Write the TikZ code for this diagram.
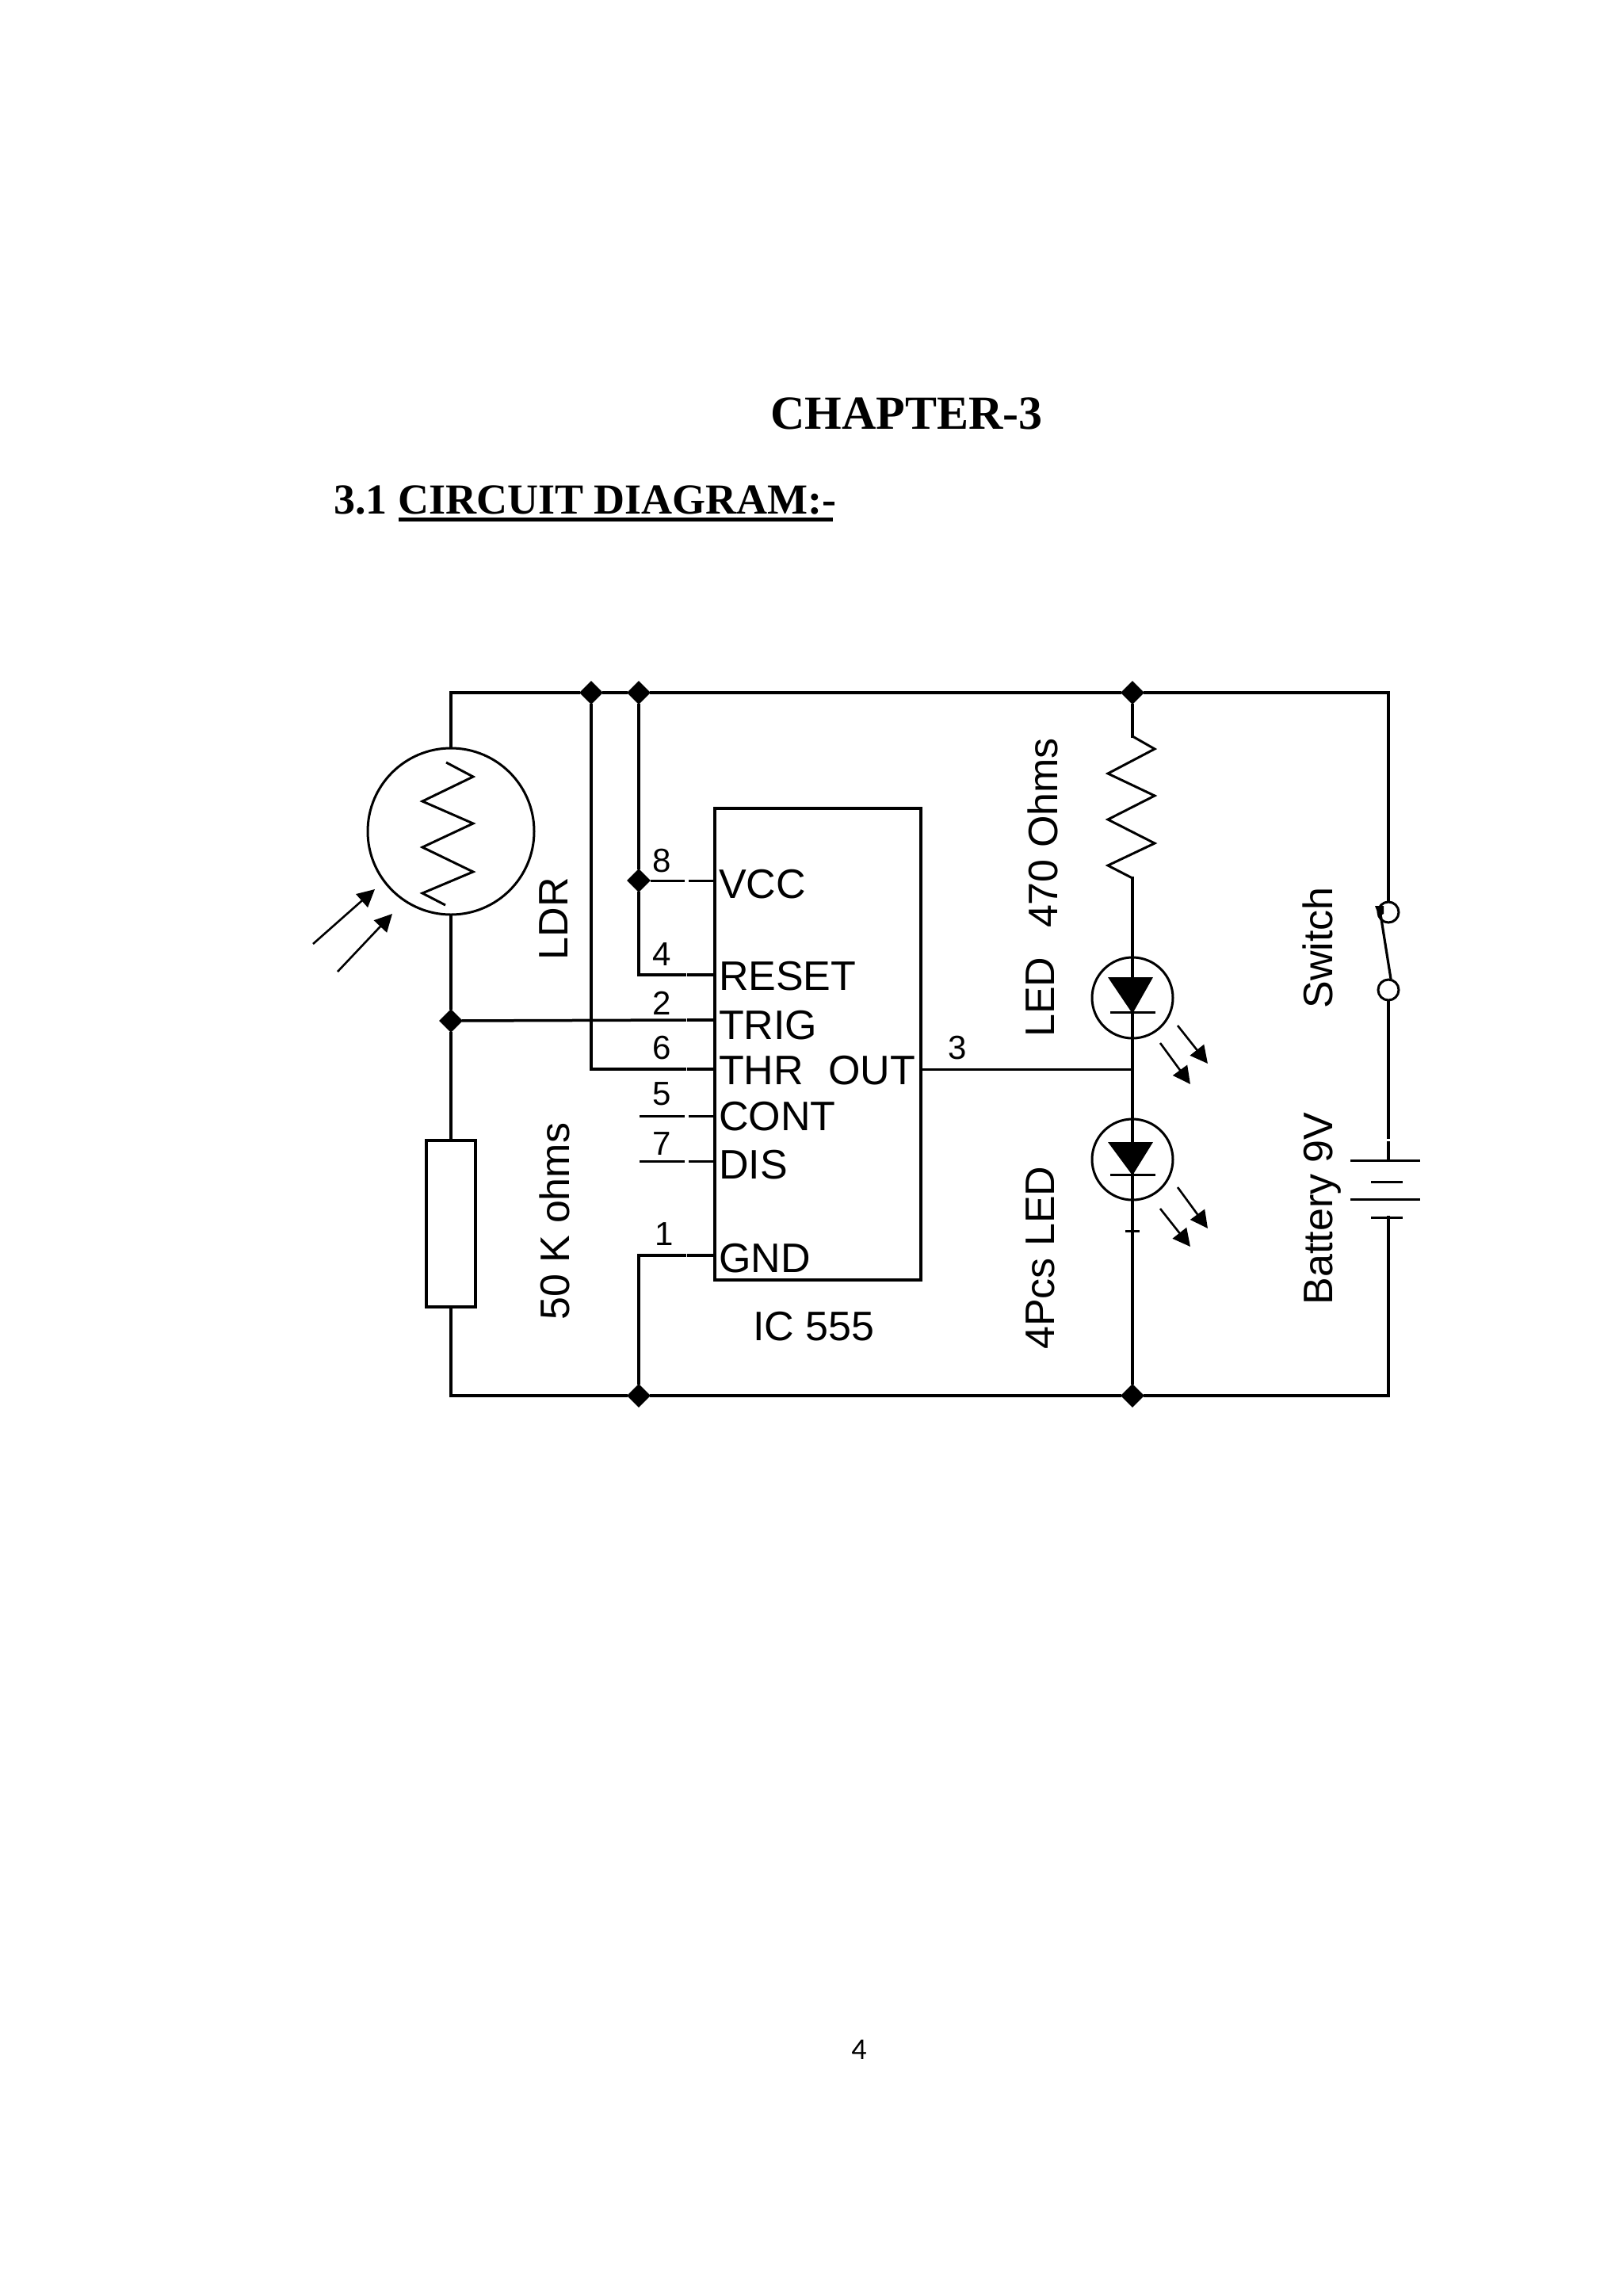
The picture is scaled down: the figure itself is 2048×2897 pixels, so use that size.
\documentclass[tikz,border=0pt]{standalone}
\usepackage{fontspec}
\setmainfont{Liberation Sans}
\newfontfamily\titlefont{Liberation Serif}
\newfontfamily\pagefont{Carlito}
\usetikzlibrary{shapes.geometric,arrows.meta}
\newcommand{\pxfont}[1]{\fontsize{#1}{#1}\selectfont}
\tikzset{
  wire/.style={line width=1.75pt,line cap=rect,black},
  thin wire/.style={line width=1.5pt,black},
  body/.style={line width=1.6pt,black},
  dot/.style={diamond,fill=black,inner sep=0pt,minimum width=15pt,minimum height=15pt},
  lbl/.style={inner sep=0pt,outer sep=0pt,anchor=base,font=\pxfont{26}},
  vlbl/.style={lbl,rotate=90},
  ictext/.style={inner sep=0pt,outer sep=0pt,anchor=base west,font=\pxfont{26}},
  pinnum/.style={inner sep=0pt,outer sep=0pt,anchor=base,font=\pxfont{21}},
  phot/.style={line width=1.3pt,-{Triangle[length=11pt,width=11pt]}},
  ring/.style={circle,draw,line width=1.5pt,inner sep=0pt},
}
\begin{document}
\begin{tikzpicture}[x=0.5pt,y=-0.5pt]
\useasboundingbox (0,0) rectangle (2048,2897);
% headings
\node[anchor=base,inner sep=0pt,font=\titlefont\bfseries\pxfont{30}] (chap) at (1144,541) {CHAPTER-3};
\node[anchor=base west,inner sep=0pt,font=\titlefont\bfseries\pxfont{27}] (sec) at (421,648) {3.1 CIRCUIT DIAGRAM:-};
\coordinate (ul1) at (503,655); \coordinate (ul2) at (1051,655);
\draw[line width=2.5pt] (ul1) -- (ul2);
\node[anchor=base,inner sep=0pt,font=\pagefont\pxfont{19}] (pg) at (1084,2598) {4};

% frame anchors
\coordinate (tl) at (569,874); \coordinate (tr) at (1752,874);
\coordinate (bl) at (569,1761); \coordinate (br) at (1752,1761);
\node[dot] (j1) at (746,874) {};
\node[dot] (j2) at (806,874) {};
\node[dot] (j3) at (1429,874) {};
\node[dot] (j4) at (806,1111) {};
\node[dot] (j5) at (569,1288) {};
\node[dot] (j6) at (806,1761) {};
\node[dot] (j7) at (1429,1761) {};

% IC
\node[draw,line width=1.75pt,minimum width=130pt,minimum height=297.5pt,inner sep=0pt,anchor=north west,outer sep=0pt] (ic) at (902,1020) {};
\foreach \n/\y in {vcc/1111,rst/1230,trg/1287,thr/1349,con/1408,dis/1465,gnd/1584}{
  \coordinate (\n A) at (864,\y);
  \coordinate (\n B) at (869,\y);
  \coordinate (\n C) at (902,\y);
}
\coordinate (cons) at (807,1408);
\coordinate (diss) at (807,1465);
\coordinate (out) at (1162,1349);
\coordinate (outj) at (1429,1349);

% LDR
\node[ring,minimum size=105pt] (ldr) at (569,1049) {};
\draw[wire] (tl) -- (j1) -- (j2) -- (j3) -- (tr);
\draw[wire] (tl) -- (ldr.north);
\draw[wire] (ldr.south) -- (j5);
\draw[thin wire] (563,962) -- (597,980) -- (533,1011) -- (597,1039) -- (533,1069) -- (597,1100) -- (533,1127) -- (562,1142);
\draw[phot] (395,1191) -- (473,1122);
\draw[phot] (426,1226) -- (495,1153);
\node[vlbl] (ldrl) at (716,1159) {LDR};

% fixed resistor
\node[draw,line width=1.75pt,minimum width=31pt,minimum height=105pt,inner sep=0pt] (r50) at (569,1544) {};
\draw[wire] (j5) -- (r50.north);
\draw[wire] (r50.south) -- (bl) -- (j6) -- (j7) -- (br);
\node[vlbl] (r50l) at (718,1541) {50 K ohms};

% pins
\draw[wire] (j1) |- (thrA);
\draw[wire] (thrB) -- (thrC);
\draw[wire] (j5) -- (trgA);
\draw[wire] (trgB) -- (trgC);
\draw[wire] (j2) -- (j4);
\draw[wire] (j4) |- (rstA);
\draw[wire] (rstB) -- (rstC);
\draw[thin wire] (j4) -- (vccA);
\draw[thin wire] (vccB) -- (vccC);
\draw[thin wire] (cons) -- (conA);
\draw[thin wire] (conB) -- (conC);
\draw[thin wire] (diss) -- (disA);
\draw[thin wire] (disB) -- (disC);
\draw[wire] (j6) |- (gndA);
\draw[wire] (gndB) -- (gndC);
\draw[thin wire] (out) -- (outj);

\node[pinnum] (p8) at (835,1100) {8};
\node[pinnum] (p4) at (835,1218) {4};
\node[pinnum] (p2) at (835,1280) {2};
\node[pinnum] (p6) at (835,1336) {6};
\node[pinnum] (p5) at (835,1394) {5};
\node[pinnum] (p7) at (835,1457) {7};
\node[pinnum] (p1) at (838,1571) {1};
\node[pinnum] (p3) at (1208,1336) {3};

\node[ictext] (tvcc) at (907,1133) {VCC};
\node[ictext] (trst) at (907,1249) {RESET};
\node[ictext] (ttrg) at (907,1311) {TRIG};
\node[ictext] (tthr) at (907,1368) {THR};
\node[ictext] (tout) at (1045,1368) {OUT};
\node[ictext] (tcon) at (907,1426) {CONT};
\node[ictext] (tdis) at (907,1487) {DIS};
\node[ictext] (tgnd) at (907,1605) {GND};
\node[ictext] (tic) at (950,1691) {IC 555};

% series resistor and LEDs
\coordinate (ra) at (1429,929);
\coordinate (rb) at (1429,1108);
\draw[wire] (j3) -- (ra);
\draw[thin wire] (ra) -- (1457,945) -- (1398,976) -- (1457,1004) -- (1398,1034) -- (1457,1064) -- (1398,1092) -- (rb);
\node[ring,minimum size=51pt] (led1) at (1429,1259) {};
\node[ring,minimum size=51pt] (led2) at (1429,1463) {};
\draw[wire] (rb) -- (led1.north) -- (led1.south) -- (led2.north) -- (led2.south);
\coordinate (tick) at (1429,1553);
\draw[wire] (led2.south) -- (tick) -- (j7);
\draw[thin wire] (1420,1553) -- (1438,1553);
% LED 1
\fill (1398,1233) -- (1455,1233) -- (1429,1279) -- cycle;
\draw[thin wire] (1401,1277) -- (1458,1277);
\draw[phot] (1486,1294) -- (1524,1342);
\draw[phot] (1464,1316) -- (1502,1368);
% LED 2
\fill (1398,1441) -- (1455,1441) -- (1429,1483) -- cycle;
\draw[thin wire] (1401,1482) -- (1458,1482);
\draw[phot] (1486,1498) -- (1524,1550);
\draw[phot] (1464,1525) -- (1502,1573);

\node[vlbl] (l470) at (1334,1051) {470 Ohms};
\node[vlbl] (lled) at (1330,1258) {LED};
\node[vlbl] (l4pc) at (1330,1587) {4Pcs LED};

% switch and battery
\node[ring,minimum size=13pt] (sw1) at (1752,1151) {};
\node[ring,minimum size=13pt] (sw2) at (1752,1249) {};
\coordinate (batt) at (1752,1435);
\coordinate (p1t) at (1752,1442);
\coordinate (p1) at (1752,1464);
\coordinate (p4) at (1752,1536);
\draw[wire] (tr) -- (sw1.north);
\draw[wire] (sw2.south) -- (batt);
\draw[wire] (p1t) -- (p1);
\draw[wire] (p4) -- (br);
\draw[line width=1.6pt] (1741,1147) -- (1755,1235);
\fill (1735,1143) -- (1746,1143) -- (1746,1153) -- (1740,1156) -- cycle;
\draw[thin wire] (1704,1464) -- (1792,1464);
\draw[thin wire] (1730,1491) -- (1770,1491);
\draw[thin wire] (1704,1513) -- (1792,1513);
\draw[thin wire] (1730,1536) -- (1770,1536);
\node[vlbl] (lsw) at (1681,1196) {Switch};
\node[vlbl] (lbat) at (1681,1525) {Battery 9V};
\end{tikzpicture}
\end{document}
